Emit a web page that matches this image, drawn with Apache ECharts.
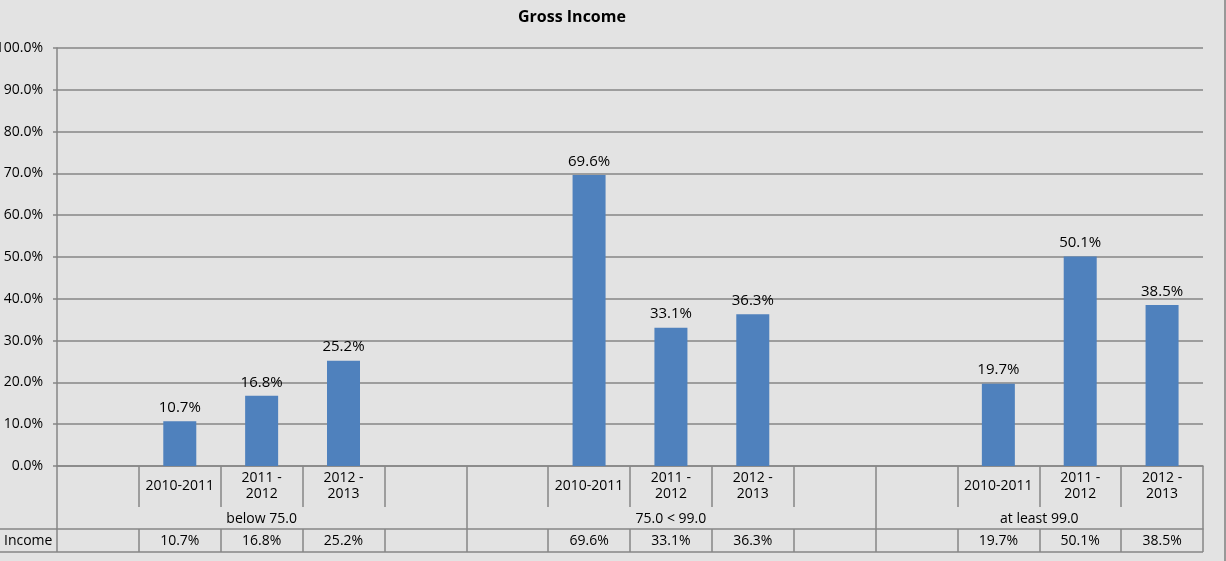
<!DOCTYPE html>
<html>
<head>
<meta charset="utf-8">
<script src="https://cdn.jsdelivr.net/npm/echarts@6/dist/echarts.min.js"></script>
<style>
  html, body { margin: 0; padding: 0; background: #e3e3e3; }
  #chart { width: 1226px; height: 561px; }
</style>
</head>
<body>
<div id="chart"></div>
<script>
// data
var periods = ["2010-2011", "2011 -\n2012", "2012 -\n2013"];
var groupNames = ["below 75.0", "75.0 < 99.0", "at least 99.0"];
var below75 = [10.7, 16.8, 25.2];
var mid75to99 = [69.6, 33.1, 36.3];
var atLeast99 = [19.7, 50.1, 38.5];
var rowName = "Income";
var yTicks = [0, 10, 20, 30, 40, 50, 60, 70, 80, 90, 100];

// each group is a blank slot, the three periods, then a blank slot (last group has no trailing blank)
var groupValues = [below75, mid75to99, atLeast99];
var slots = [], values = [], groupStarts = [], groupCenters = [];
groupValues.forEach(function (vals, g) {
  var start = slots.length;
  groupStarts.push(start);
  slots.push(""); values.push(null);
  periods.forEach(function (p, i) { slots.push(p); values.push(vals[i]); });
  if (g < groupValues.length - 1) { slots.push(""); values.push(null); }
  groupCenters.push((start + slots.length) / 2);
});

var pct = function (v) { return v == null ? "" : v.toFixed(1) + "%"; };
var lineCol = "#868686";
var font = "Open Sans";
var W = 1226, H = 561;
var gl = 57, gr = 23, gt = 48, gb = 95;
var plotBottom = H - gb;

var chart = echarts.init(document.getElementById("chart"));
var option = {
  backgroundColor: "#e3e3e3",
  textStyle: { fontFamily: font },
  title: {
    text: "Gross Income",
    left: 513, top: 4,
    textStyle: { fontFamily: font, fontSize: 16, fontWeight: "bold", color: "#000" }
  },
  grid: { left: gl, right: gr, top: gt, bottom: gb, containLabel: false, outerBoundsMode: "none" },
  xAxis: [
    { // period labels and short separators
      type: "category", data: slots, position: "bottom",
      axisLine: { lineStyle: { color: lineCol, width: 1.5 } },
      axisTick: { show: true, alignWithLabel: false, interval: 0, length: 41, lineStyle: { color: lineCol, width: 1.5 } },
      axisLabel: { interval: 0, fontSize: 14, color: "#000", verticalAlign: "middle", margin: 20, lineHeight: 16 }
    },
    { // long group separators through the whole table
      type: "category", data: slots, position: "bottom", offset: 0,
      axisLine: { show: false },
      axisTick: { show: true, alignWithLabel: false, length: 86,
        interval: function (i) { return groupStarts.indexOf(i) >= 0; },
        lineStyle: { color: lineCol, width: 1.5 } },
      axisLabel: { show: false }
    },
    { // group names
      type: "value", min: 0, max: slots.length, interval: 0.5, position: "bottom", offset: 0,
      axisLine: { show: false }, axisTick: { show: false }, splitLine: { show: false },
      axisLabel: {
        fontSize: 14, color: "#000", verticalAlign: "middle", margin: 53,
        formatter: function (v) { var k = groupCenters.indexOf(v); return k >= 0 ? groupNames[k] : ""; }
      }
    },
    { // data table row
      type: "category", data: values.map(pct), position: "bottom", offset: 63,
      axisLine: { lineStyle: { color: lineCol, width: 1.5 } },
      axisTick: { show: true, alignWithLabel: false, interval: 0, length: 23, lineStyle: { color: lineCol, width: 1.5 } },
      axisLabel: { interval: 0, fontSize: 14, color: "#000", verticalAlign: "middle", margin: 12 }
    }
  ],
  yAxis: {
    type: "value", min: yTicks[0], max: yTicks[yTicks.length - 1], interval: yTicks[1] - yTicks[0],
    axisLine: { show: true, lineStyle: { color: lineCol, width: 1.5 } },
    axisTick: { show: true, length: 4, lineStyle: { color: lineCol, width: 1.5 } },
    splitLine: { lineStyle: { color: lineCol, width: 1.5 } },
    axisLabel: { fontSize: 14, color: "#000", margin: 14, formatter: pct }
  },
  series: [{
    type: "bar", xAxisIndex: 0, data: values, barWidth: 33,
    itemStyle: { color: "#4f81bd" },
    label: { show: true, position: "top", distance: 6, fontSize: 15, color: "#000", formatter: function (p) { return pct(p.value); } }
  }],
  graphic: [
    { type: "line", shape: { x1: 0, y1: plotBottom + 63, x2: gl, y2: plotBottom + 63 }, style: { stroke: lineCol, lineWidth: 1.5 } },
    { type: "line", shape: { x1: 0, y1: plotBottom + 86, x2: W - gr, y2: plotBottom + 86 }, style: { stroke: lineCol, lineWidth: 1.5 } },
    { type: "line", shape: { x1: W - 1, y1: 0, x2: W - 1, y2: H }, style: { stroke: "#7f7f7f", lineWidth: 1.5 } },
    { type: "text", x: 4, y: plotBottom + 75, style: { text: rowName, font: "14px 'Open Sans'", fill: "#000", verticalAlign: "middle" } }
  ]
};
chart.setOption(option);
</script>
</body>
</html>
